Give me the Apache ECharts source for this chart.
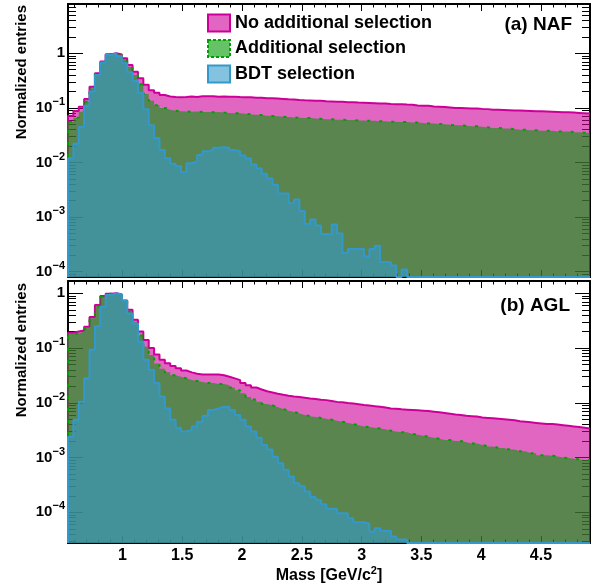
<!DOCTYPE html>
<html><head><meta charset="utf-8">
<script src="https://cdn.jsdelivr.net/npm/echarts@6/dist/echarts.min.js"></script>
<style>html,body{margin:0;padding:0;background:#fff}#c{width:606px;height:587px}</style>
</head><body><div id="c"></div>
<script>
const FONT = '"Liberation Sans", Arial, Helvetica, sans-serif';

// Histogram binning (lower edge of first shown bin, bin width)
const binLow = 0.545;
const binWidth = 0.045;

// Tick labels / positions
const xMajorTicks = [1, 1.5, 2, 2.5, 3, 3.5, 4, 4.5];
const xMinorTicks = [0.6,0.7,0.8,0.9,1.1,1.2,1.3,1.4,1.6,1.7,1.8,1.9,2.1,2.2,2.3,2.4,2.6,2.7,2.8,2.9,
                     3.1,3.2,3.3,3.4,3.6,3.7,3.8,3.9,4.1,4.2,4.3,4.4,4.6,4.7,4.8,4.9];
const yMajorTicks = [1e-4, 1e-3, 1e-2, 1e-1, 1];
const seriesNames = ['No additional selection', 'Additional selection', 'BDT selection'];
const panelLabels = ['(a) NAF', '(b) AGL'];

// (a) NAF
const nafNone = [0.072,0.088,0.105,0.145,0.245,0.43,0.71,0.96,1.0,0.95,
  0.81,0.61,0.46,0.35,0.265,0.21,0.19,0.172,0.162,0.158,
  0.157,0.158,0.161,0.159,0.163,0.164,0.163,0.16,0.161,0.16,
  0.16,0.158,0.157,0.156,0.154,0.153,0.151,0.15,0.148,0.146,
  0.144,0.143,0.14,0.138,0.137,0.135,0.135,0.132,0.131,0.13,
  0.129,0.127,0.127,0.125,0.124,0.123,0.122,0.12,0.12,0.118,
  0.117,0.117,0.115,0.114,0.111,0.109,0.109,0.106,0.105,0.104,
  0.102,0.1,0.1,0.099,0.098,0.098,0.096,0.095,0.093,0.093,
  0.092,0.091,0.09,0.09,0.089,0.088,0.087,0.087,0.086,0.085,
  0.084,0.083,0.083,0.082,0.081,0.08,0.079];
const nafAdd = [0.055,0.066,0.085,0.13,0.23,0.42,0.7,0.96,1.0,0.93,
  0.77,0.56,0.4,0.27,0.18,0.135,0.112,0.1,0.093,0.089,
  0.087,0.086,0.085,0.086,0.084,0.084,0.083,0.084,0.082,0.081,
  0.08,0.08,0.078,0.076,0.075,0.074,0.072,0.071,0.07,0.069,
  0.068,0.067,0.066,0.065,0.065,0.064,0.063,0.062,0.062,0.061,
  0.061,0.06,0.06,0.059,0.059,0.058,0.058,0.057,0.057,0.056,
  0.056,0.055,0.055,0.054,0.054,0.053,0.052,0.052,0.051,0.05,
  0.049,0.048,0.048,0.047,0.046,0.046,0.045,0.044,0.043,0.043,
  0.042,0.042,0.041,0.04,0.04,0.039,0.039,0.038,0.038,0.038,
  0.037,0.037,0.037,0.036,0.036,0.035,0.035];
const nafBdt = [0.012,0.022,0.045,0.11,0.2,0.4,0.68,0.93,1.0,0.88,
  0.66,0.45,0.31,0.19,0.095,0.048,0.028,0.017,0.012,0.0095,
  0.0085,0.0066,0.0097,0.0105,0.0137,0.016,0.017,0.0187,0.019,0.0187,
  0.017,0.016,0.0135,0.0118,0.0092,0.0078,0.0062,0.0051,0.0039,0.0027,
  0.0027,0.0018,0.0021,0.0013,0.00075,0.0009,0.0007,0.00049,0.00048,0.00073,
  0.0005,0.00022,0.00026,0.00026,0.00026,0.00019,0.00026,0.0003,0.00015,0.00015,
  0.00013,0,0.00011,0,0,0,0,0,0,0,
  0,0,0,0,0,0,0,0,0,0,
  0,0,0,0,0,0,0,0,0,0,
  0,0,0,0,0,0,0];

// (b) AGL
const aglNone = [0.19,0.2,0.21,0.245,0.37,0.61,0.89,0.98,1.0,0.95,
  0.74,0.5,0.33,0.2,0.14,0.1,0.076,0.061,0.053,0.047,
  0.043,0.039,0.036,0.034,0.033,0.033,0.033,0.033,0.032,0.03,
  0.028,0.026,0.023,0.021,0.019,0.0175,0.0163,0.0155,0.0147,0.014,
  0.0135,0.0131,0.0128,0.0124,0.012,0.0117,0.0114,0.0112,0.0108,0.0104,
  0.0102,0.0099,0.0097,0.0094,0.0091,0.0089,0.0087,0.0085,0.0082,0.0079,
  0.0078,0.0076,0.0075,0.0074,0.0073,0.0072,0.0071,0.0069,0.0067,0.0065,
  0.0063,0.0061,0.006,0.0058,0.0057,0.0056,0.0054,0.0053,0.0052,0.0051,
  0.005,0.0049,0.0048,0.0046,0.0045,0.0044,0.0043,0.0042,0.0041,0.0041,
  0.004,0.0039,0.0038,0.0037,0.0036,0.0035,0.0034];
const aglAdd = [0.18,0.185,0.2,0.23,0.35,0.58,0.87,0.98,1.0,0.94,
  0.7,0.46,0.3,0.17,0.106,0.075,0.052,0.042,0.036,0.032,
  0.03,0.028,0.026,0.025,0.024,0.023,0.023,0.022,0.022,0.021,
  0.019,0.017,0.015,0.0128,0.0115,0.0105,0.0095,0.009,0.0083,0.0077,
  0.0072,0.0068,0.0064,0.006,0.0057,0.0055,0.0053,0.0051,0.0049,0.0047,
  0.0045,0.0043,0.0041,0.0039,0.0037,0.0036,0.0035,0.0034,0.0033,0.0031,
  0.003,0.0029,0.0029,0.0027,0.0026,0.0025,0.0024,0.0023,0.0022,0.0021,
  0.0021,0.002,0.002,0.0019,0.0018,0.0018,0.0017,0.0016,0.0016,0.0015,
  0.0015,0.0014,0.0014,0.0013,0.0013,0.0012,0.0012,0.0011,0.0011,0.00108,
  0.00105,0.001,0.00098,0.00095,0.00092,0.0009,0.00089];
const aglBdt = [0.0024,0.0049,0.0105,0.028,0.093,0.25,0.57,0.93,1.0,0.95,
  0.73,0.43,0.28,0.13,0.061,0.04,0.023,0.013,0.0079,0.0049,
  0.0035,0.003,0.0032,0.0037,0.0045,0.0058,0.0074,0.0079,0.0085,0.0085,
  0.0074,0.006,0.0049,0.0037,0.003,0.0023,0.0017,0.0014,0.00104,0.00079,
  0.0006,0.00045,0.00034,0.0003,0.00024,0.00019,0.00017,0.00014,0.000116,0.000116,
  0.000096,0.000096,0.000078,0.000066,0.000066,0.000062,0.000044,0.000051,0.000046,0.000046,
  0.000036,0.000032,0.000032,0,0,0,0,0,0,0,
  0,0,0,0,0,0,0,0,0,0,
  0,0,0,0,0,0,0,0,0,0,
  0,0,0,0,0,0,0];

const lineColors = ['#cc0099', '#00a000', '#3399cc'];
const fillColors = ['rgba(204,0,153,0.6)', 'rgba(0,153,0,0.6)', 'rgba(51,153,204,0.6)'];

const nBins = nafNone.length;
const xMin = binLow;
const xMax = binLow + nBins * binWidth;

const panels = [
  { top: 4, height: 273, yMin: 8e-5, yMax: 8, data: [nafNone, nafAdd, nafBdt], xLabels: false },
  { top: 281, height: 262, yMin: 2.75e-5, yMax: 1.68, data: [aglNone, aglAdd, aglBdt], xLabels: true }
];

const yMinorTicks = [];
for (let e = -5; e <= 0; e++) {
  for (let m = 2; m <= 9; m++) yMinorTicks.push(Number((m * Math.pow(10, e)).toPrecision(3)));
}

const grids = [], xAxes = [], yAxes = [], series = [];
const black = '#000';

panels.forEach((p, g) => {
  grids.push({ left: 68, right: 16, top: p.top, height: p.height, containLabel: false, outerBoundsMode: 'none' });
  const xBase = { type: 'value', gridIndex: g, min: xMin, max: xMax, splitLine: { show: false } };
  const mk = (pos, major, main) => Object.assign({}, xBase, {
    position: pos,
    axisLine: { show: main, onZero: false, lineStyle: { color: black, width: 2 } },
    axisTick: { show: true, inside: true, length: major ? 7 : 3.5, customValues: major ? xMajorTicks : xMinorTicks,
                lineStyle: { color: black, width: 1 } },
    axisLabel: { show: false }
  });
  const xMain = mk('bottom', true, true);
  if (p.xLabels) {
    xMain.axisLabel = { show: true, customValues: xMajorTicks, margin: 5, color: black,
      fontFamily: FONT, fontWeight: 'bold', fontSize: 16, formatter: v => String(v) };
    xMain.name = 'Mass [GeV/c{s|2}]';
    xMain.nameLocation = 'middle';
    xMain.nameGap = 22;
    xMain.nameMoveOverlap = false;
    xMain.nameTextStyle = { color: black, fontFamily: FONT, fontWeight: 'bold', fontSize: 16,
      rich: { s: { fontSize: 11, fontWeight: 'bold', fontFamily: FONT, color: black, padding: [0, 0, 10, 0] } } };
  }
  xAxes.push(xMain, mk('bottom', false, false), mk('top', true, true), mk('top', false, false));

  const yBase = { type: 'log', logBase: 10, gridIndex: g, min: p.yMin, max: p.yMax, splitLine: { show: false } };
  const mky = (pos, major, main) => Object.assign({}, yBase, {
    position: pos,
    axisLine: { show: main, onZero: false, lineStyle: { color: black, width: 2 } },
    axisTick: { show: true, inside: true, length: major ? 15 : 8, customValues: major ? yMajorTicks : yMinorTicks,
                lineStyle: { color: black, width: 1 } },
    axisLabel: { show: false }
  });
  const yMain = mky('left', true, true);
  yMain.axisLabel = { show: true, customValues: yMajorTicks, margin: 3,
    formatter: function (v) {
      const e = Math.round(Math.log10(v));
      if (e === 0) return '{b|1}';
      return '{b|10}{s|\u2212' + (-e) + '}';
    },
    rich: {
      b: { fontSize: 15, fontWeight: 'bold', fontFamily: FONT, color: black },
      s: { fontSize: 11, fontWeight: 'bold', fontFamily: FONT, color: black, padding: [0, 0, 12, 0] }
    }
  };
  yAxes.push(yMain, mky('left', false, false), mky('right', true, true), mky('right', false, false));

  p.data.forEach((vals, si) => {
    const pts = [[binLow, p.yMin]];
    vals.forEach((v, i) => pts.push([binLow + i * binWidth, v > 0 ? v : p.yMin]));
    const last = vals[vals.length - 1];
    pts.push([binLow + vals.length * binWidth, last > 0 ? last : p.yMin]);
    series.push({
      type: 'line', name: seriesNames[si], xAxisIndex: 4 * g, yAxisIndex: 4 * g,
      step: 'end', data: pts, symbol: 'none', showSymbol: false, silent: true,
      lineStyle: { color: lineColors[si], width: 2, type: si === 1 ? [3, 9] : 'solid' },
      itemStyle: { color: lineColors[si] },
      areaStyle: { color: fillColors[si], origin: 'start', opacity: 1 },
      z: 2 + si, animation: false
    });
  });
});

const chart = echarts.init(document.getElementById('c'), null, { renderer: 'canvas' });
chart.setOption({
  animation: false,
  backgroundColor: '#fff',
  grid: grids,
  xAxis: xAxes,
  yAxis: yAxes,
  series: series,
  legend: {
    orient: 'vertical', left: 207, top: 13.5, itemWidth: 22, itemHeight: 17, itemGap: 6.5,
    selectedMode: false, padding: 0,
    textStyle: { fontFamily: FONT, fontWeight: 'bold', fontSize: 18, color: black },
    data: seriesNames.map((n, i) => ({
      name: n, icon: 'rect',
      itemStyle: { color: fillColors[i], borderColor: lineColors[i], borderWidth: 2,
                   borderType: i === 1 ? [3, 2] : 'solid' }
    }))
  },
  title: [
    { text: panelLabels[0], right: 34, top: 15, padding: 0,
      textStyle: { fontFamily: FONT, fontWeight: 'bold', fontSize: 19, color: black, lineHeight: 20 } },
    { text: panelLabels[1], right: 36, top: 296, padding: 0,
      textStyle: { fontFamily: FONT, fontWeight: 'bold', fontSize: 19, color: black, lineHeight: 20 } }
  ],
  graphic: [
    { type: 'text', x: 22, y: 5, rotation: Math.PI / 2, silent: true,
      style: { text: 'Normalized entries', fill: black, fontFamily: FONT, fontWeight: 'bold', fontSize: 15,
               textAlign: 'right', align: 'right', textVerticalAlign: 'middle', verticalAlign: 'middle' } },
    { type: 'text', x: 22, y: 283, rotation: Math.PI / 2, silent: true,
      style: { text: 'Normalized entries', fill: black, fontFamily: FONT, fontWeight: 'bold', fontSize: 15,
               textAlign: 'right', align: 'right', textVerticalAlign: 'middle', verticalAlign: 'middle' } }
  ]
});
</script>
</body></html>
